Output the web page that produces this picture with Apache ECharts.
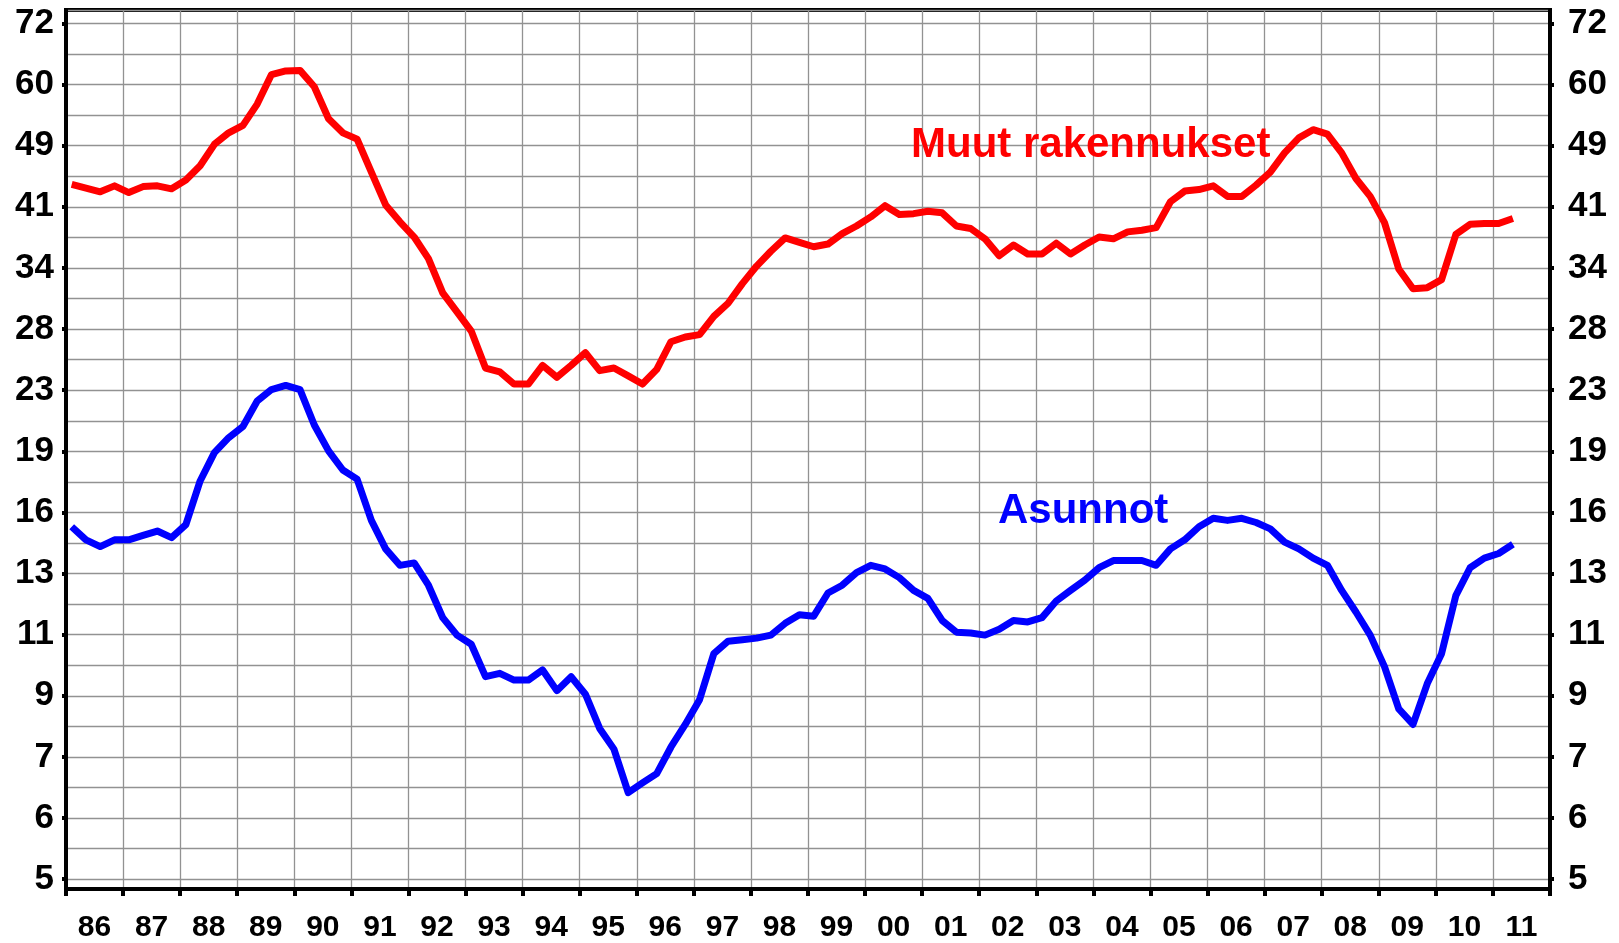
<!DOCTYPE html>
<html>
<head>
<meta charset="utf-8">
<title>Muut rakennukset / Asunnot</title>
<script src="https://cdn.jsdelivr.net/npm/echarts@6/dist/echarts.min.js"></script>
<style>
  html, body { margin: 0; padding: 0; background: #fff; }
  #chart { width: 1619px; height: 943px; }
</style>
</head>
<body>
<div id="chart"></div>
<script>
// quarterly series, 1986Q1 .. 2011Q2
const startYear = 1986;
const yearLabels = ['86', '87', '88', '89', '90', '91', '92', '93', '94', '95', '96', '97', '98',
  '99', '00', '01', '02', '03', '04', '05', '06', '07', '08', '09', '10', '11'];

const muut = [
  43.6, 43.1, 42.6, 43.4,   // 86
  42.5, 43.3, 43.4, 43.0,   // 87
  44.2, 46.2, 49.4, 51.2,   // 88
  52.4, 56.0, 61.4, 62.1,   // 89
  62.2, 59.1, 53.5, 51.2,   // 90
  50.2, 45.3, 40.9, 38.8,   // 91
  37.0, 34.6, 31.1, 29.3,   // 92
  27.6, 24.6, 24.3, 23.4,   // 93
  23.4, 24.8, 23.9, 24.8,   // 94
  25.8, 24.4, 24.6, 24.0,   // 95
  23.4, 24.5, 26.7, 27.1,   // 96
  27.3, 28.9, 30.1, 32.0,   // 97
  33.8, 35.4, 36.9, 36.4,   // 98
  35.9, 36.2, 37.4, 38.3,   // 99
  39.4, 40.8, 39.7, 39.8,   // 00
  40.1, 39.9, 38.3, 38.0,   // 01
  36.8, 34.9, 36.1, 35.1,   // 02
  35.1, 36.3, 35.1, 36.1,   // 03
  37.0, 36.8, 37.6, 37.8,   // 04
  38.1, 41.3, 42.7, 42.9,   // 05
  43.4, 42.0, 42.0, 43.5,   // 06
  45.3, 48.1, 50.4, 51.7,   // 07
  51.0, 48.1, 44.4, 42.0,   // 08
  38.7, 33.5, 31.5, 31.6,   // 09
  32.4, 37.3, 38.5, 38.6,   // 10
  38.6, 39.2                // 11
];

const asunnot = [
  15.0, 14.4, 14.1, 14.4,   // 86
  14.4, 14.6, 14.8, 14.5,   // 87
  15.1, 17.3, 18.9, 19.8,   // 88
  20.5, 22.2, 23.0, 23.3,   // 89
  23.0, 20.6, 19.0, 17.9,   // 90
  17.4, 15.3, 14.0, 13.3,   // 91
  13.4, 12.5, 11.3, 10.7,   // 92
  10.4, 9.4, 9.5, 9.3,      // 93
  9.3, 9.6, 9.0, 9.4,       // 94
  8.9, 8.0, 7.5, 6.55,      // 95
  6.75, 6.95, 7.55, 8.1,    // 96
  8.75, 10.1, 10.5, 10.55,  // 97
  10.6, 10.7, 11.1, 11.4,   // 98
  11.35, 12.2, 12.5, 13.0,  // 99
  13.3, 13.15, 12.8, 12.3,  // 00
  12.0, 11.2, 10.8, 10.77,  // 01
  10.7, 10.9, 11.2, 11.15,  // 02
  11.3, 11.9, 12.3, 12.7,   // 03
  13.2, 13.5, 13.5, 13.5,   // 04
  13.3, 14.0, 14.4, 15.0,   // 05
  15.4, 15.3, 15.4, 15.2,   // 06
  14.9, 14.3, 14.0, 13.6,   // 07
  13.3, 12.3, 11.5, 10.7,   // 08
  9.7, 8.5, 8.1, 9.2,       // 09
  10.1, 12.1, 13.2, 13.6,   // 10
  13.8, 14.2                // 11
];

// logarithmic y scale: each labelled line is one equal step
const yTickLabels = [5, 6, 7, 9, 11, 13, 16, 19, 23, 28, 34, 41, 49, 60, 72];

const FONT = "'Liberation Sans', Arial, sans-serif";
const STEP_RATIO = Math.pow(yTickLabels[yTickLabels.length - 1] / yTickLabels[0], 1 / (yTickLabels.length - 1));
const Y_MIN = -0.16;
const Y_MAX = 14.22;

function toStep(v) {
  return Math.log(v / yTickLabels[0]) / Math.log(STEP_RATIO);
}

function toPoints(values) {
  return values.map((v, i) => [startYear + (i + 0.4) / 4, toStep(v)]);
}

const tickSteps = yTickLabels.map((_, i) => i);

function labelAxis(position, margin) {
  return {
    type: 'value',
    position: position,
    min: Y_MIN,
    max: Y_MAX,
    minInterval: 1,
    maxInterval: 1,
    splitNumber: 14,
    axisLine: {show: true, lineStyle: {color: '#000', width: 4}},
    axisTick: {show: true, length: 4, inside: false, customValues: tickSteps, lineStyle: {color: '#000', width: 4}},
    axisLabel: {
      show: true,
      customValues: tickSteps,
      margin: margin,
      color: '#000',
      fontSize: 35,
      fontWeight: 'bold',
      fontFamily: FONT,
      showMinLabel: true,
      showMaxLabel: true,
      formatter: v => (Math.abs(v - Math.round(v)) < 1e-6 ? String(yTickLabels[Math.round(v)]) : '')
    },
    splitLine: {show: false}
  };
}

let charDom = document.getElementById('chart');
let myChart = echarts.init(charDom, null, {renderer: 'canvas'});

let option = {
  animation: false,
  backgroundColor: '#fff',
  grid: {
    left: 66,
    right: 69,
    top: 10,
    bottom: 54,
    show: true,
    backgroundColor: '#fff',
    borderColor: '#000',
    borderWidth: 4
  },
  xAxis: [
    {
      type: 'category',
      data: yearLabels,
      boundaryGap: true,
      position: 'bottom',
      axisLine: {show: true, onZero: false, lineStyle: {color: '#000', width: 4}},
      axisTick: {show: true, interval: 0, length: 7, alignWithLabel: false, lineStyle: {color: '#000', width: 4}},
      axisLabel: {
        interval: 0,
        margin: 24,
        color: '#000',
        fontSize: 30,
        fontWeight: 'bold',
        fontFamily: FONT
      },
      splitLine: {show: true, interval: 0, lineStyle: {color: '#929292', width: 1.3}}
    },
    {
      type: 'value',
      min: startYear,
      max: startYear + yearLabels.length,
      show: false
    }
  ],
  yAxis: [
    {
      type: 'value',
      position: 'left',
      min: Y_MIN,
      max: Y_MAX,
      minInterval: 0.5,
      maxInterval: 0.5,
      splitNumber: 28,
      axisLine: {show: true, lineStyle: {color: '#000', width: 4}},
      axisTick: {show: false},
      axisLabel: {show: false},
      splitLine: {show: true, lineStyle: {color: '#929292', width: 1.3}}
    },
    labelAxis('left', 12),
    labelAxis('right', 18)
  ],
  graphic: [
    {
      type: 'text',
      left: 911,
      top: 124,
      style: {
        text: 'Muut rakennukset',
        fill: '#ff0000',
        font: 'bold 42px ' + FONT
      },
      z: 100
    },
    {
      type: 'text',
      left: 998,
      top: 490,
      style: {
        text: 'Asunnot',
        fill: '#0000ff',
        font: 'bold 42px ' + FONT
      },
      z: 100
    }
  ],
  series: [
    {
      name: 'Muut rakennukset',
      type: 'line',
      xAxisIndex: 1,
      yAxisIndex: 0,
      data: toPoints(muut),
      showSymbol: false,
      lineStyle: {color: '#ff0000', width: 7, join: 'round'},
      z: 10
    },
    {
      name: 'Asunnot',
      type: 'line',
      xAxisIndex: 1,
      yAxisIndex: 0,
      data: toPoints(asunnot),
      showSymbol: false,
      lineStyle: {color: '#0000ff', width: 7, join: 'round'},
      z: 10
    }
  ]
};

myChart.setOption(option);
</script>
</body>
</html>
